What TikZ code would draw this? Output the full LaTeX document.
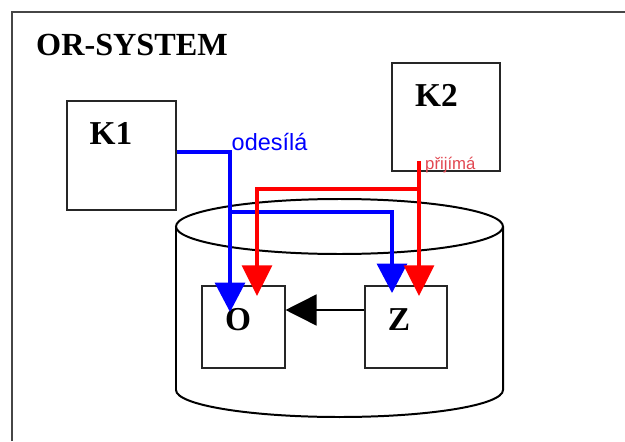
\documentclass[tikz,border=0pt]{standalone}
\usepackage{fontspec}
\setmainfont{Liberation Serif}
\newfontfamily\sansfnt{Liberation Sans}
\usepackage{tikz}
\usetikzlibrary{arrows.meta, positioning, calc}
\definecolor{orblue}{RGB}{0,0,255}
\definecolor{orred}{RGB}{255,0,0}
\definecolor{prred}{RGB}{226,72,82}
\definecolor{frgray}{RGB}{70,70,70}

\begin{document}
\begin{tikzpicture}[x=0.03cm, y=0.03cm,
  box/.style={rectangle, draw=black!85, line width=0.9pt, fill=white, inner sep=0pt},
  lbl/.style={inner sep=0pt, font=\fontsize{28.5pt}{28pt}\selectfont\bfseries},
  ttl/.style={inner sep=0pt, font=\fontsize{27.5pt}{28pt}\selectfont\bfseries},
  can/.style={draw=black, line width=1.7pt},
  bluarr/.style={draw=orblue, line width=2.6pt, -{Triangle[length=0.88cm, width=0.9cm]}},
  redarr/.style={draw=orred, line width=2.6pt, -{Triangle[length=0.92cm, width=0.9cm]}},
  blkarr/.style={draw=black, line width=1.3pt, -{Triangle[length=0.93cm, width=0.93cm]}}
]
\useasboundingbox (0,0) rectangle (625,441);
\draw[frgray, line width=1.2pt] (12,0) -- (12,429) -- (625,429);
\node[ttl, anchor=west] (title) at (36,396.3) {OR-SYSTEM};

\draw[can] (339.5,214.5) ellipse [x radius=163.5, y radius=27.5];
\draw[can] (176,214.5) -- (176,51) arc[start angle=180, end angle=360, x radius=163.5, y radius=27] -- (503,214.5);

\node[box, minimum width=3.27cm, minimum height=3.27cm] (K1) at (121.5,285.5) {};
\node[lbl] (K1t) at ($(K1)+(-10.5,22)$) {K1};
\node[box, minimum width=3.24cm, minimum height=3.24cm] (K2) at (446,324) {};
\node[lbl] (K2t) at ($(K2)+(-9.5,21.5)$) {K2};
\node[box, minimum width=2.49cm, minimum height=2.46cm] (O) at (243.5,114) {};
\node[lbl] (Ot) at ($(O)+(-5.5,7.5)$) {O};
\node[box, minimum width=2.46cm, minimum height=2.46cm] (Z) at (406,114) {};
\node[lbl] (Zt) at ($(Z)+(-7,7.5)$) {Z};

\node[anchor=base west, inner sep=0pt, text=orblue, font=\sansfnt\fontsize{20pt}{20pt}\selectfont] (send) at (231.5,290.5) {odesílá};
\node[anchor=base west, inner sep=0pt, text=prred, font=\sansfnt\fontsize{14.3pt}{14pt}\selectfont] (recv) at (425,272) {přijímá};

\coordinate (oblu) at (230,129);
\coordinate (bsplit) at (230,229);
\coordinate (zblu) at (392,148);
\coordinate (k2out) at (419,280);
\coordinate (rsplit) at (419,252);
\coordinate (zred) at (419,145);
\coordinate (ored) at (257,145);

\draw[bluarr] ($(K1.east)+(0,3.5)$) -| (oblu);
\draw[bluarr] (bsplit) -| (zblu);
\draw[redarr] (k2out) -- (zred);
\draw[redarr] (rsplit) -| (ored);
\draw[blkarr] ($(Z.west)+(0,17)$) -- ($(O.east)+(0,17)$);
\end{tikzpicture}
\end{document}
